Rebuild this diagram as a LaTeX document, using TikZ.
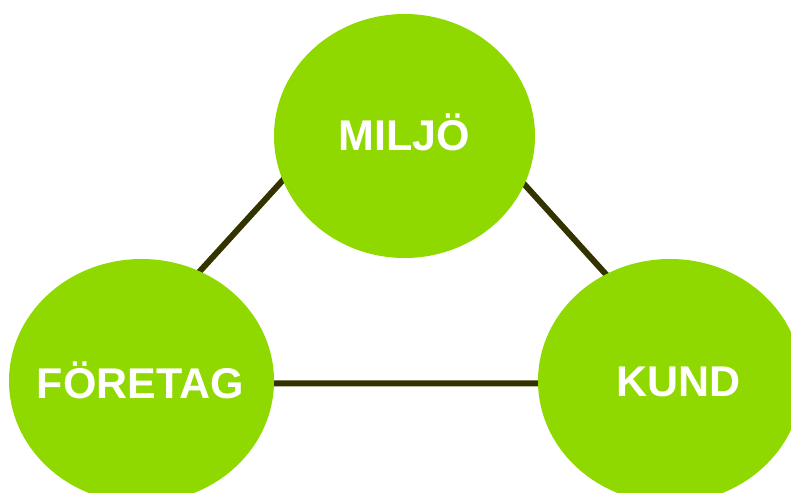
\documentclass[tikz,border=0pt]{standalone}
\usepackage{fontspec}
\setmainfont{Liberation Sans}
\usetikzlibrary{shapes.geometric,backgrounds}
\definecolor{leaf}{RGB}{144,217,0}
\definecolor{olive}{RGB}{51,51,0}
\begin{document}
\begin{tikzpicture}[x=1pt,y=-1pt,
  blob/.style={ellipse,fill=leaf,draw=none,inner sep=0pt},
  lbl/.style={anchor=base,text=white,font=\fontsize{43}{43}\selectfont\bfseries,inner sep=0pt},
  link/.style={draw=olive,line width=6pt,shorten <=-4pt,shorten >=-4pt}]
\useasboundingbox (0,0) rectangle (791,492);
\node[blob,minimum width=261pt,minimum height=244pt] (top) at (404.5,136) {};
\node[blob,minimum width=265pt,minimum height=244pt] (left) at (141.5,381) {};
\node[blob,minimum width=264pt,minimum height=244pt] (right) at (670,381) {};
\node[lbl] (ttop) at (404.5,150) {MILJÖ};
\node[lbl] (tleft) at (140.5,398) {FÖRETAG};
\node[lbl] (tright) at (678.5,396) {KUND};
\begin{scope}[on background layer]
\draw[link] (left.62) -- (top.200);
\draw[link] (top.338) -- (right.121);
\draw[link] (left.-1.3) -- (right.181.3);
\end{scope}
\end{tikzpicture}
\end{document}
